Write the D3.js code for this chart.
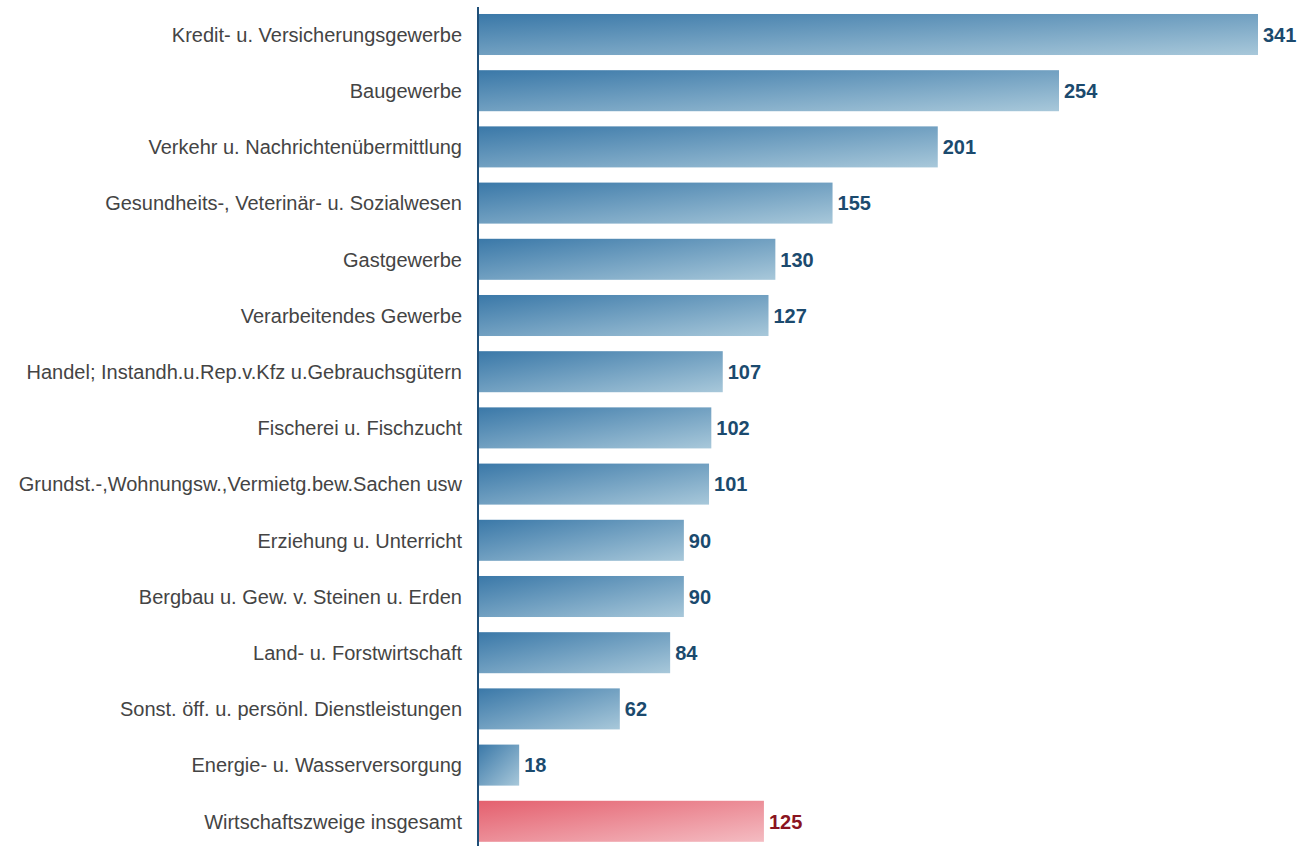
<!DOCTYPE html>
<html><head><meta charset="utf-8">
<script src="https://cdn.jsdelivr.net/npm/d3@7"></script>
<style>body{margin:0;background:#fff}svg{display:block}</style>
</head><body>
<script>
const categories = [
  "Kredit- u. Versicherungsgewerbe",
  "Baugewerbe",
  "Verkehr u. Nachrichtenübermittlung",
  "Gesundheits-, Veterinär- u. Sozialwesen",
  "Gastgewerbe",
  "Verarbeitendes Gewerbe",
  "Handel; Instandh.u.Rep.v.Kfz u.Gebrauchsgütern",
  "Fischerei u. Fischzucht",
  "Grundst.-,Wohnungsw.,Vermietg.bew.Sachen usw",
  "Erziehung u. Unterricht",
  "Bergbau u. Gew. v. Steinen u. Erden",
  "Land- u. Forstwirtschaft",
  "Sonst. öff. u. persönl. Dienstleistungen",
  "Energie- u. Wasserversorgung",
  "Wirtschaftszweige insgesamt"
];
const values = [341, 254, 201, 155, 130, 127, 107, 102, 101, 90, 90, 84, 62, 18, 125];
const highlight = ["Wirtschaftszweige insgesamt"];

const W = 1308, H = 846, x0 = 478;
const svg = d3.select("body").append("svg").attr("width", W).attr("height", H);
const defs = svg.append("defs");
const gb = defs.append("linearGradient").attr("id","gb").attr("x1",0).attr("y1",0).attr("x2",1).attr("y2",1);
gb.append("stop").attr("offset","0%").attr("stop-color","#3a78a8");
gb.append("stop").attr("offset","100%").attr("stop-color","#a8c8da");
const gr = defs.append("linearGradient").attr("id","gr").attr("x1",0).attr("y1",0).attr("x2",1).attr("y2",1);
gr.append("stop").attr("offset","0%").attr("stop-color","#e4606e");
gr.append("stop").attr("offset","100%").attr("stop-color","#f4bcc2");

const x = d3.scaleLinear().domain([0, 341]).range([x0, 1258]);
const y = d3.scaleBand().domain(categories).range([6.4, 849.4]).paddingInner(0.27).paddingOuter(0.135);

const data = categories.map((c,i)=>({c, v: values[i], hi: highlight.includes(c)}));

svg.selectAll("rect.bar").data(data).join("rect").attr("class","bar")
  .attr("x", x(0)).attr("y", d=>y(d.c)).attr("width", d=>x(d.v)-x(0)).attr("height", y.bandwidth())
  .attr("fill", d=>d.hi ? "url(#gr)" : "url(#gb)");

svg.selectAll("text.cat").data(data).join("text").attr("class","cat")
  .attr("x", x0-16).attr("y", d=>y(d.c)+y.bandwidth()/2).attr("dy","0.36em")
  .attr("text-anchor","end").attr("font-family","Liberation Sans, Arial, sans-serif")
  .attr("font-size", 20).attr("fill","#444").text(d=>d.c);

svg.selectAll("text.val").data(data).join("text").attr("class","val")
  .attr("x", d=>x(d.v)+5).attr("y", d=>y(d.c)+y.bandwidth()/2).attr("dy","0.36em")
  .attr("font-family","Liberation Sans, Arial, sans-serif").attr("font-weight","bold")
  .attr("font-size", 20).attr("fill", d=>d.hi ? "#8a1420" : "#1b4a6e").text(d=>d.v);

svg.append("line").attr("x1",x0).attr("x2",x0).attr("y1",7).attr("y2",H)
  .attr("stroke","#1f4f78").attr("stroke-width",2);
</script>
</body></html>
